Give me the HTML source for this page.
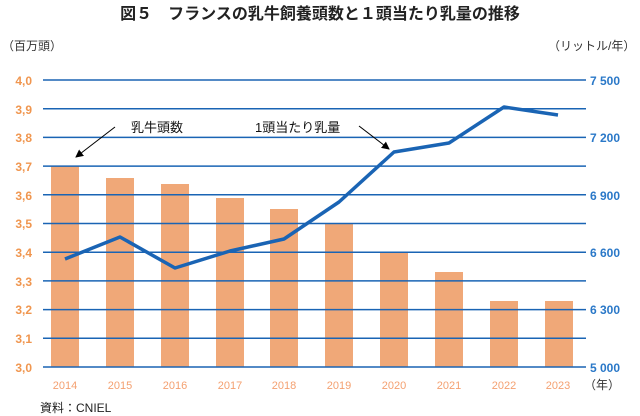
<!DOCTYPE html>
<html><head><meta charset="utf-8"><style>
body{margin:0;background:#fff;}
svg{display:block;font-family:"Liberation Sans","Noto Sans CJK JP",sans-serif;}
</style></head><body>
<svg width="640" height="416" viewBox="0 0 640 416">
<defs><marker id="ah" markerWidth="8" markerHeight="8" refX="7" refY="4" orient="auto" markerUnits="userSpaceOnUse"><path d="M0,0 L8,4 L0,8 Z" fill="#000"/></marker></defs>
<text x="320" y="19" text-anchor="middle" font-size="16" font-weight="bold" fill="#222">図５　フランスの乳牛飼養頭数と１頭当たり乳量の推移</text>
<text x="2" y="50" font-size="12" fill="#333">（百万頭）</text>
<text x="548" y="50" font-size="12" fill="#333">（リットル/年）</text>
<g fill="#f0a878">
<rect x="51" y="166" width="28" height="201"/>
<rect x="106" y="178" width="28" height="189"/>
<rect x="161" y="184" width="28" height="183"/>
<rect x="216" y="198" width="28" height="169"/>
<rect x="270" y="209" width="28" height="158"/>
<rect x="325" y="224" width="28" height="143"/>
<rect x="380" y="252" width="28" height="115"/>
<rect x="435" y="272" width="28" height="95"/>
<rect x="490" y="301" width="28" height="66"/>
<rect x="545" y="301" width="28" height="66"/>
</g>
<g stroke="#1a64b4" stroke-width="1.5">
<line x1="43" y1="80" x2="586" y2="80"/><line x1="43" y1="108.7" x2="586" y2="108.7"/>
<line x1="43" y1="137.4" x2="586" y2="137.4"/><line x1="43" y1="166.1" x2="586" y2="166.1"/>
<line x1="43" y1="194.8" x2="586" y2="194.8"/><line x1="43" y1="223.5" x2="586" y2="223.5"/>
<line x1="43" y1="252.2" x2="586" y2="252.2"/><line x1="43" y1="280.9" x2="586" y2="280.9"/>
<line x1="43" y1="309.6" x2="586" y2="309.6"/><line x1="43" y1="338.3" x2="586" y2="338.3"/>
<line x1="43" y1="367" x2="586" y2="367"/>
</g>
<polyline points="65,259 120,237 175,268 230,251 284,239 339,202 394,152 449,143 504,107 558,115" fill="none" stroke="#1a64b4" stroke-width="3.5" stroke-linejoin="round"/>
<g font-size="12" font-weight="bold" fill="#f0964f" text-anchor="end">
<text x="32" y="85">4,0</text><text x="32" y="114">3,9</text><text x="32" y="142">3,8</text>
<text x="32" y="171">3,7</text><text x="32" y="200">3,6</text><text x="32" y="228">3,5</text>
<text x="32" y="257">3,4</text><text x="32" y="286">3,3</text><text x="32" y="314">3,2</text>
<text x="32" y="343">3,1</text><text x="32" y="372">3,0</text>
</g>
<g font-size="12" font-weight="bold" fill="#2a78c8">
<text x="590" y="85">7 500</text><text x="590" y="142">7 200</text><text x="590" y="200">6 900</text>
<text x="590" y="257">6 600</text><text x="590" y="314">6 300</text><text x="590" y="372">5 000</text>
</g>
<g font-size="11" fill="#f4a070" text-anchor="middle">
<text x="65" y="389">2014</text><text x="120" y="389">2015</text><text x="175" y="389">2016</text>
<text x="230" y="389">2017</text><text x="284" y="389">2018</text><text x="339" y="389">2019</text>
<text x="394" y="389">2020</text><text x="449" y="389">2021</text><text x="504" y="389">2022</text>
<text x="558" y="389">2023</text>
</g>
<text x="584" y="389" font-size="12" fill="#333">（年）</text>
<text x="131" y="132" font-size="13" fill="#111">乳牛頭数</text>
<text x="255" y="132" font-size="13" fill="#111">1頭当たり乳量</text>
<line x1="115" y1="127" x2="76" y2="157" stroke="#000" stroke-width="1" marker-end="url(#ah)"/>
<line x1="359" y1="126" x2="389" y2="149" stroke="#000" stroke-width="1" marker-end="url(#ah)"/>
<text x="40" y="412" font-size="12" fill="#222">資料：CNIEL</text>
</svg>
</body></html>
